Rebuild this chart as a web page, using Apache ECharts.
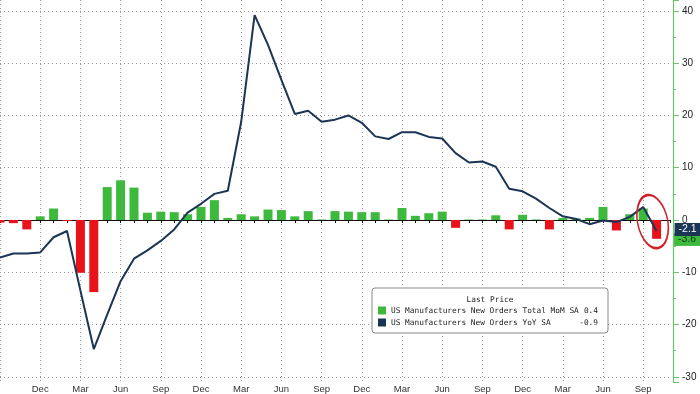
<!DOCTYPE html>
<html><head><meta charset="utf-8">
<script src="https://cdn.jsdelivr.net/npm/echarts@6/dist/echarts.min.js"></script>
<style>html,body{margin:0;padding:0;background:#fff}#c{width:700px;height:394px}</style>
</head><body><div id="c"></div>
<script>
const categories = ['2019-09','2019-10','2019-11','2019-12','2020-01','2020-02','2020-03','2020-04','2020-05','2020-06','2020-07','2020-08',
'2020-09','2020-10','2020-11','2020-12','2021-01','2021-02','2021-03','2021-04','2021-05','2021-06','2021-07','2021-08',
'2021-09','2021-10','2021-11','2021-12','2022-01','2022-02','2022-03','2022-04','2022-05','2022-06','2022-07','2022-08',
'2022-09','2022-10','2022-11','2022-12','2023-01','2023-02','2023-03','2023-04','2023-05','2023-06','2023-07','2023-08',
'2023-09','2023-10','2023-11'];
const momValues = [-0.5,-0.6,-1.8,0.7,2.2,-0.2,-10.1,-13.8,6.3,7.6,6.2,1.4,
1.6,1.5,1.1,2.5,3.8,0.4,1.1,0.7,2.0,1.9,0.7,1.7,
0.1,1.7,1.6,1.5,1.5,0.1,2.3,0.8,1.3,1.6,-1.5,0.1,
0.1,0.9,-1.8,1.0,0.1,-1.8,0.4,0.3,0.4,2.5,-2.0,1.1,
2.2,-3.6,null];
const yoyValues = [-7.2,-6.4,-6.4,-6.2,-3.3,-2.1,-13.5,-24.7,-18.1,-11.7,-7.4,-5.8,
-4.0,-1.8,1.4,3.1,5.0,5.6,18.8,39.2,33.5,26.8,20.3,20.9,
18.8,19.2,20.0,18.6,16.0,15.5,16.8,16.8,15.9,15.6,12.8,11.0,
11.2,10.2,6.0,5.5,4.1,2.3,0.7,0.2,-0.8,-0.1,-0.4,0.6,
2.5,-2.1,null];
const monthNames = ['Jan','Feb','Mar','Apr','May','Jun','Jul','Aug','Sep','Oct','Nov','Dec'];
const labelMonths = ['Dec','Mar','Jun','Sep'];
const yTickLabels = [-30,-20,-10,0,10,20,30,40];
const seriesNames = ['US Manufacturers New Orders Total MoM SA','US Manufacturers New Orders YoY SA'];
const lastPrices = ['0.4','-0.9'];
const lastTags = ['-3.6','-2.1'];

const GREEN = '#3dba3d', RED = '#e8121b', NAVY = '#1b3554', AXISGREEN = '#6cc46c';
const FONT = "'Liberation Sans Narrow','Liberation Sans',sans-serif";
const LFONT = "'DejaVu Sans Mono','Liberation Mono',monospace";
const lastIdx = 49;
const monthOf = v => monthNames[parseInt(v.slice(5), 10) - 1];
const isQuarter = (i, v) => labelMonths.includes(monthOf(v));

const barData = momValues.map((v, i) => {
  if (v === null) return null;
  const item = { value: v, itemStyle: { color: v < 0 ? RED : GREEN } };
  if (i === lastIdx) {
    item.label = { show: true, position: 'right', distance: 13, offset: [0, 10],
      formatter: lastTags[0], backgroundColor: GREEN, color: '#0d3b0d', padding: [1, 6, 1, 4],
      fontSize: 10.5, fontFamily: FONT };
  }
  return item;
});

const chart = echarts.init(document.getElementById('c'), null, { renderer: 'canvas' });
chart.setOption({
  animation: false,
  backgroundColor: '#fff',
  grid: { left: -1, right: 30, top: 0, bottom: 11 },
  title: { text: 'Last Price', left: 490, top: 296, textAlign: 'center', padding: 0,
    textStyle: { fontSize: 7.8, fontWeight: 'normal', color: '#222', fontFamily: LFONT } },
  legend: {
    left: 372, top: 288, orient: 'vertical', padding: [17, 10, 5, 6], itemGap: 1,
    itemWidth: 8, itemHeight: 8, icon: 'rect',
    backgroundColor: '#fff', borderColor: '#888', borderWidth: 1, borderRadius: 3,
    data: [{ name: seriesNames[0], itemStyle: { color: GREEN } }, { name: seriesNames[1], itemStyle: { color: NAVY } }],
    formatter: name => '{n|' + name + '}{v|' + lastPrices[seriesNames.indexOf(name)] + '}',
    textStyle: { color: '#222', fontSize: 7.8, fontFamily: LFONT, lineHeight: 11,
      rich: { n: { width: 188, fontSize: 7.8, fontFamily: LFONT, color: '#222' },
              v: { width: 19, align: 'right', fontSize: 7.8, fontFamily: LFONT, color: '#222' } } }
  },
  xAxis: {
    type: 'category', data: categories, boundaryGap: false,
    axisLine: { lineStyle: { color: '#111', width: 1 } },
    axisTick: { show: true, interval: 0, length: 3, lineStyle: { color: '#111' } },
    axisLabel: { interval: (i, v) => i > 0 && isQuarter(i, v), formatter: v => monthOf(v),
      margin: 2, fontSize: 9.5, color: '#333', fontFamily: FONT },
    splitLine: { show: true, interval: isQuarter, lineStyle: { color: '#999', type: [1, 3], width: 1 } }
  },
  yAxis: {
    type: 'value', position: 'right', offset: 3, min: -31, max: 42.1, splitNumber: 7,
    axisLine: { show: true, lineStyle: { color: AXISGREEN, width: 1.2 } },
    axisTick: { show: true, length: 6, lineStyle: { color: AXISGREEN } },
    minorTick: { show: true, splitNumber: 2, length: 3, lineStyle: { color: AXISGREEN } },
    axisLabel: { showMinLabel: false, showMaxLabel: false, margin: 9, fontSize: 10, color: '#222', fontFamily: FONT,
      formatter: v => yTickLabels.includes(Math.round(v * 10) / 10) ? String(v) : '' },
    splitLine: { show: true, showMinLine: false, showMaxLine: false, lineStyle: { color: '#999', type: [1, 3], width: 1 } }
  },
  series: [
    { name: seriesNames[0], type: 'bar', data: barData, barWidth: 9, z: 2 },
    { name: seriesNames[1], type: 'line', data: yoyValues, symbol: 'none', z: 3,
      itemStyle: { color: NAVY }, lineStyle: { color: NAVY, width: 2 },
      endLabel: { show: true, formatter: lastTags[1], distance: 18, offset: [0, -1.5],
        backgroundColor: NAVY, color: '#fff', padding: [1, 6, 1, 4], fontSize: 10.5, fontFamily: FONT },
      markPoint: {
        symbol: 'path://M0,50 A50,50 0 1,1 100,50 A50,50 0 1,1 0,50 Z',
        symbolSize: [30, 54], symbolRotate: 12, symbolOffset: [-4, 0],
        itemStyle: { color: 'rgba(0,0,0,0)', borderColor: '#d0202a', borderWidth: 2 },
        label: { show: false },
        data: [{ coord: [categories[lastIdx], -0.3] }]
      }
    }
  ]
});
</script></body></html>
